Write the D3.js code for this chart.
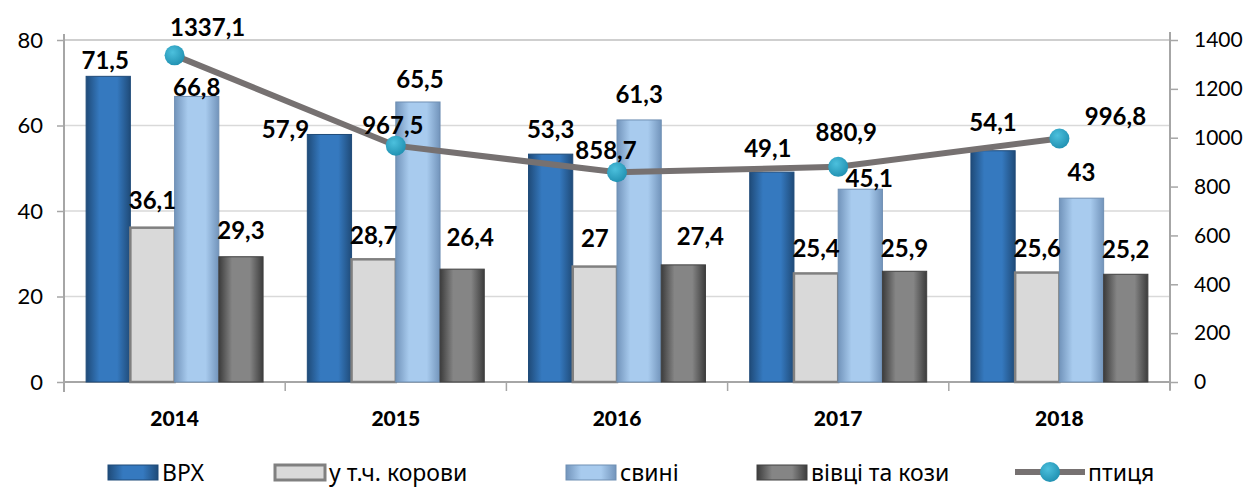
<!DOCTYPE html>
<html>
<head>
<meta charset="utf-8">
<script src="https://cdn.jsdelivr.net/npm/d3@7"></script>
<style>
  body { margin: 0; background: #fff; }
  svg { font-family: Lato, "Noto Sans", sans-serif; }
</style>
</head>
<body>
<div id="chart"></div>
<script>
const years = ["2014", "2015", "2016", "2017", "2018"];
const cattle = [71.5, 57.9, 53.3, 49.1, 54.1];
const cows = [36.1, 28.7, 27, 25.4, 25.6];
const pigs = [66.8, 65.5, 61.3, 45.1, 43];
const sheep = [29.3, 26.4, 27.4, 25.9, 25.2];
const poultry = [1337.1, 967.5, 858.7, 880.9, 996.8];
const leftTicks = [0, 20, 40, 60, 80];
const rightTicks = [0, 200, 400, 600, 800, 1000, 1200, 1400];
const barNames = ["ВРХ", "у т.ч. корови", "свині", "вівці та кози"];
const lineName = "птиця";

// label nudges [dx, dy] from the bar top / point (hand placed like in the original)
const barNudge = [
  [[-3, -16], [-44, -5], [0, -25], [-4, -23], [0, -28]],
  [[0, -27], [0, -24], [0, -28], [0, -25], [0, -24]],
  [[0, -9], [2, -22], [0, -25], [9, -11], [0, -26]],
  [[0, -26], [8, -32], [17, -28], [0, -23], [0, -25]]
];
const lineNudge = [[33, -28], [-3, -20], [-11, -22], [8, -34], [56, -22]];

const W = 1252, H = 489;
const pLeft = 64, pRight = 1170, pTop = 40, pBottom = 382;

const svg = d3.select("#chart").append("svg")
  .attr("width", W).attr("height", H);

const defs = svg.append("defs");
function grad(id, edge, mid) {
  const g = defs.append("linearGradient").attr("id", id)
    .attr("x1", 0).attr("x2", 1).attr("y1", 0).attr("y2", 0);
  g.append("stop").attr("offset", 0).attr("stop-color", edge);
  g.append("stop").attr("offset", 0.3).attr("stop-color", mid);
  g.append("stop").attr("offset", 0.7).attr("stop-color", mid);
  g.append("stop").attr("offset", 1).attr("stop-color", edge);
}
grad("g0", "#1f4b79", "#3579bf");
grad("g1", "#d9d9d9", "#d9d9d9");
grad("g2", "#7294bb", "#a8cbee");
grad("g3", "#3c3c3c", "#858585");
const rg = defs.append("radialGradient").attr("id", "dot").attr("cx", 0.4).attr("cy", 0.35).attr("r", 0.7);
rg.append("stop").attr("offset", 0).attr("stop-color", "#4cc0dd");
rg.append("stop").attr("offset", 1).attr("stop-color", "#1f8fb0");

const fills = ["url(#g0)", "url(#g1)", "url(#g2)", "url(#g3)"];
const strokes = ["#1f4b79", "#808080", "#6f8fb3", "#404040"];

const x0 = d3.scaleBand().domain(years).range([pLeft, pRight]).padding(0);
const x1 = d3.scaleBand().domain(d3.range(4)).range([0, x0.bandwidth()])
  .paddingInner(0).paddingOuter(0.5);
const y = d3.scaleLinear().domain([0, 80]).range([pBottom, pTop]);
const y2 = d3.scaleLinear().domain([0, 1400]).range([pBottom, pTop]);

const fmt = v => String(v).replace(".", ",");

// gridlines
svg.append("g").selectAll("line").data(leftTicks.filter(d => d > 0)).join("line")
  .attr("x1", pLeft).attr("x2", pRight)
  .attr("y1", d => y(d)).attr("y2", d => y(d))
  .attr("stroke", d => d === 80 ? "#bfbfbf" : "#d9d9d9").attr("stroke-width", 1.5);

// left axis
const axL = svg.append("g").attr("transform", `translate(${pLeft},0)`)
  .call(d3.axisLeft(y).tickValues(leftTicks).tickSize(7).tickPadding(14));
axL.select(".domain").attr("stroke", "#a6a6a6").attr("stroke-width", 2)
  .attr("d", `M0,${pTop - 6}V${pBottom + 10}`);
axL.selectAll(".tick line").attr("stroke", "#a6a6a6").attr("stroke-width", 1.5);
axL.selectAll(".tick text").attr("font-size", 22).attr("fill", "#000")
  .attr("font-family", "Lato, 'Noto Sans', sans-serif");

// right axis
const axR = svg.append("g").attr("transform", `translate(${pRight},0)`)
  .call(d3.axisRight(y2).tickValues(rightTicks).tickFormat(d3.format("d")).tickSize(8).tickPadding(16));
axR.select(".domain").attr("stroke", "#a6a6a6").attr("stroke-width", 2)
  .attr("d", `M0,${pTop - 8}V${pBottom + 8}`);
axR.selectAll(".tick line").attr("stroke", "#a6a6a6").attr("stroke-width", 1.5);
axR.selectAll(".tick text").attr("font-size", 21).attr("fill", "#000")
  .attr("font-family", "Lato, 'Noto Sans', sans-serif");

// bottom axis line + category ticks
svg.append("line").attr("x1", pLeft).attr("x2", pRight)
  .attr("y1", pBottom).attr("y2", pBottom)
  .attr("stroke", "#a6a6a6").attr("stroke-width", 2);
const bounds = years.map(d => x0(d)).concat([pRight]);
svg.append("g").selectAll("line").data(bounds).join("line")
  .attr("x1", d => d).attr("x2", d => d)
  .attr("y1", pBottom).attr("y2", pBottom + 9)
  .attr("stroke", "#a6a6a6").attr("stroke-width", 1.5);
svg.append("g").selectAll("text").data(years).join("text")
  .attr("x", d => x0(d) + x0.bandwidth() / 2).attr("y", 426)
  .attr("text-anchor", "middle").attr("font-size", 21).attr("font-weight", 900)
  .text(d => d);

// bars
const series = [cattle, cows, pigs, sheep];
series.forEach((vals, si) => {
  const g = svg.append("g");
  g.selectAll("rect").data(vals).join("rect")
    .attr("x", (d, i) => x0(years[i]) + x1(si))
    .attr("y", d => y(d))
    .attr("width", x1.bandwidth())
    .attr("height", d => pBottom - y(d))
    .attr("fill", fills[si])
    .attr("stroke", strokes[si])
    .attr("stroke-width", si === 1 ? 2.5 : 1);
});

// poultry line
const cx = (d, i) => x0(years[i]) + x0.bandwidth() / 2;
svg.append("path").datum(poultry)
  .attr("fill", "none").attr("stroke", "#767171").attr("stroke-width", 6)
  .attr("d", d3.line().x(cx).y(d => y2(d)));
svg.append("g").selectAll("circle").data(poultry).join("circle")
  .attr("cx", cx).attr("cy", d => y2(d)).attr("r", 10)
  .attr("fill", "url(#dot)");

// data labels
series.forEach((vals, si) => {
  svg.append("g").selectAll("text").data(vals).join("text")
    .attr("x", (d, i) => x0(years[i]) + x1(si) + x1.bandwidth() / 2 + barNudge[si][i][0])
    .attr("y", (d, i) => y(d) + barNudge[si][i][1])
    .attr("dy", "0.35em").attr("text-anchor", "middle")
    .attr("font-size", 24).attr("font-weight", "bold")
    .text(fmt);
});
svg.append("g").selectAll("text").data(poultry).join("text")
  .attr("x", (d, i) => cx(d, i) + lineNudge[i][0])
  .attr("y", (d, i) => y2(d) + lineNudge[i][1])
  .attr("dy", "0.35em").attr("text-anchor", "middle")
  .attr("font-size", 24).attr("font-weight", "bold")
  .text(fmt);

// legend
const legX = [108, 275, 566, 757];
const leg = svg.append("g").attr("font-family", "'Noto Sans', sans-serif").attr("font-size", 23);
barNames.forEach((n, i) => {
  leg.append("rect").attr("x", legX[i]).attr("y", 465).attr("width", 50).attr("height", 15)
    .attr("fill", fills[i]).attr("stroke", strokes[i]).attr("stroke-width", i === 1 ? 3 : 1);
  leg.append("text").attr("x", legX[i] + 54).attr("y", 481).text(n);
});
leg.append("line").attr("x1", 1015).attr("x2", 1085).attr("y1", 472).attr("y2", 472)
  .attr("stroke", "#767171").attr("stroke-width", 6);
leg.append("circle").attr("cx", 1050).attr("cy", 472).attr("r", 10).attr("fill", "url(#dot)");
leg.append("text").attr("x", 1088).attr("y", 481).text(lineName);
</script>
</body>
</html>
